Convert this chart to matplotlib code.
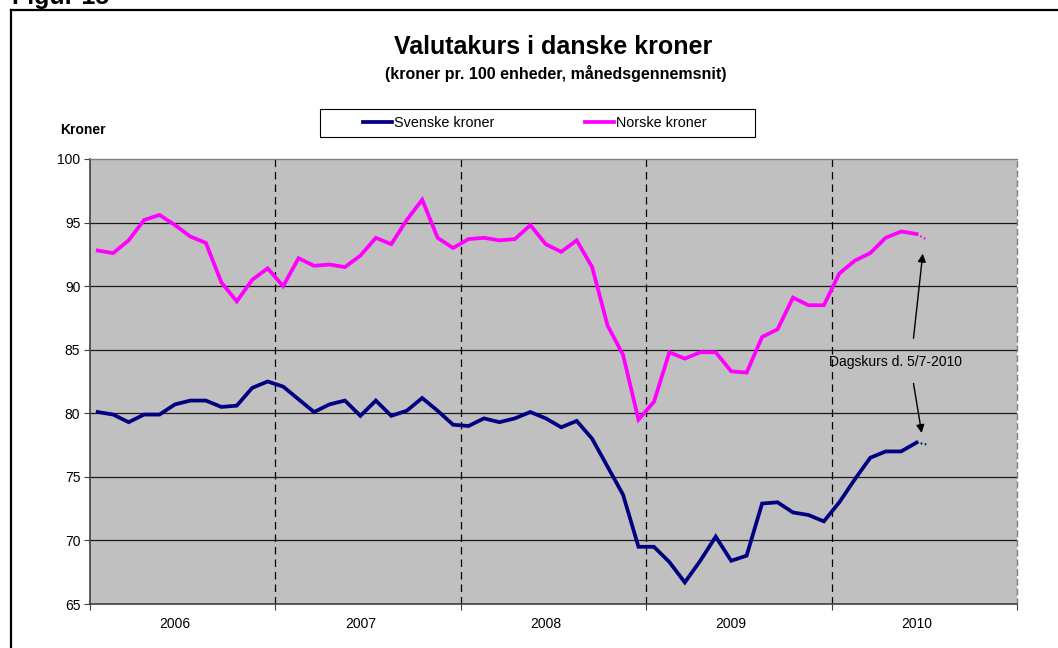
import matplotlib
matplotlib.use("Agg")
import matplotlib.pyplot as plt
from matplotlib.lines import Line2D
from matplotlib.patches import Rectangle
import numpy as np
import pandas as pd

plt.rcParams['font.family'] = ['Liberation Sans', 'DejaVu Sans']

# ---------------- data ----------------
years = ["2006", "2007", "2008", "2009", "2010"]
start_month = "2006-01"
svenske = [80.1, 79.9, 79.3, 79.9, 79.9, 80.7, 81.0, 81.0, 80.5, 80.6, 82.0, 82.5,
           82.1, 81.1, 80.1, 80.7, 81.0, 79.8, 81.0, 79.8, 80.2, 81.2, 80.2, 79.1,
           79.0, 79.6, 79.3, 79.6, 80.1, 79.6, 78.9, 79.4, 78.0, 75.8, 73.6, 69.5,
           69.5, 68.3, 66.7, 68.4, 70.3, 68.4, 68.8, 72.9, 73.0, 72.2, 72.0, 71.5,
           73.0, 74.8, 76.5, 77.0, 77.0, 77.7]
norske = [92.8, 92.6, 93.6, 95.2, 95.6, 94.8, 93.9, 93.4, 90.3, 88.8, 90.5, 91.4,
          90.0, 92.2, 91.6, 91.7, 91.5, 92.4, 93.8, 93.3, 95.2, 96.8, 93.8, 93.0,
          93.7, 93.8, 93.6, 93.7, 94.8, 93.3, 92.7, 93.6, 91.5, 86.9, 84.6, 79.5,
          80.9, 84.8, 84.3, 84.8, 84.8, 83.3, 83.2, 86.0, 86.6, 89.1, 88.5, 88.5,
          91.0, 92.0, 92.6, 93.8, 94.3, 94.1]
dagskurs_dato = "2010-07-05"
dagskurs_sek = 77.55
dagskurs_nok = 93.68
annotation_text = "Dagskurs d. 5/7-2010"

# --------------- positions ---------------
months = pd.period_range(start_month, periods=len(svenske), freq="M")
x = np.arange(len(months))
d = pd.Timestamp(dagskurs_dato)
base = pd.Period(start_month, freq="M")
x_dag = (d.to_period("M") - base).n + (d.day - 1) / d.days_in_month - 0.5
n_total = len(years) * 12

W, H = 1058, 648
fig = plt.figure(figsize=(W / 100, H / 100), dpi=100)
ax = fig.add_axes([90 / W, 1 - 604 / H, (1017 - 90) / W, (604 - 159) / H])
ax.set_facecolor("#C0C0C0")

# grid lines
yt = np.arange(65, 101, 5)
for v in yt[1:-1]:
    ax.axhline(v, color="#1a1a1a", lw=0.9, zorder=1)
# year separators
for i in range(1, len(years)):
    ax.axvline(i * 12 - 0.5, color="black", lw=0.9, ls=(0, (6, 4)), zorder=1)

navy = "#000080"
mag = "#FF00FF"
ax.plot(x, svenske, color=navy, lw=2.7, zorder=3, solid_joinstyle="miter", label="Svenske kroner")
ax.plot(x, norske, color=mag, lw=2.7, zorder=3, solid_joinstyle="miter", label="Norske kroner")
ax.plot([x[-1], x_dag], [svenske[-1], dagskurs_sek], color=navy, lw=1.5, ls=(0, (0.8, 1.2)), zorder=2.5)
ax.plot([x[-1], x_dag], [norske[-1], dagskurs_nok], color=mag, lw=1.5, ls=(0, (0.8, 1.2)), zorder=2.5)

ax.set_xlim(-0.5, n_total - 0.5)
ax.set_ylim(65, 100)
ax.set_yticks(yt)
ax.set_yticklabels([str(v) for v in yt], fontsize=10)
ax.set_xticks(np.arange(0, n_total + 1, 12) - 0.5)
ax.set_xticklabels([])
ax.set_xticks(np.arange(len(years)) * 12 + 5, minor=True)
ax.set_xticklabels(years, minor=True, fontsize=10)
ax.tick_params(axis="x", which="minor", length=0, pad=9)
ax.tick_params(axis="x", which="major", length=4, direction="out", color="#404040")
ax.tick_params(axis="y", length=4, direction="out", color="#404040", pad=3)

for s in ["left", "bottom"]:
    ax.spines[s].set_color("#404040")
    ax.spines[s].set_linewidth(1.2)
ax.spines["top"].set_color("#808080")
ax.spines["top"].set_linewidth(1.0)
ax.spines["right"].set_color("#808080")
ax.spines["right"].set_linewidth(1.0)
ax.spines["right"].set_linestyle((0, (4, 3)))

# annotation
ax.text(47.3, 84.05, annotation_text, fontsize=10, va="center", ha="left", zorder=4)
ax.annotate("", xy=(53.4, 92.55), xytext=(52.8, 85.9),
            arrowprops=dict(arrowstyle="-|>", color="black", lw=1.0, mutation_scale=12, shrinkA=0, shrinkB=0), zorder=4)
ax.annotate("", xy=(53.33, 78.45), xytext=(52.8, 82.35),
            arrowprops=dict(arrowstyle="-|>", color="black", lw=1.0, mutation_scale=12, shrinkA=0, shrinkB=0), zorder=4)

# titles
fig.text(553 / W, 1 - 47 / H, "Valutakurs i danske kroner", fontsize=18, fontweight="bold", ha="center", va="center")
fig.text(556 / W, 1 - 73 / H, "(kroner pr. 100 enheder, månedsgennemsnit)", fontsize=11.5, fontweight="bold", ha="center", va="center")
fig.text(60 / W, 1 - 130 / H, "Kroner", fontsize=10, fontweight="bold", ha="left", va="center")
fig.text(12 / W, 1 - 4 / H, "Figur 15", fontsize=18, fontweight="bold", ha="left", va="baseline")

# outer frame
fig.add_artist(Line2D([11 / W, 11 / W], [0, 1 - 10 / H], color="black", lw=1.6, transform=fig.transFigure))
fig.add_artist(Line2D([11 / W, 1], [1 - 10 / H, 1 - 10 / H], color="black", lw=1.6, transform=fig.transFigure))

# legend
fig.add_artist(Rectangle((320 / W, 1 - 137 / H), 435 / W, 28 / H, transform=fig.transFigure,
                         facecolor="white", edgecolor="black", lw=0.8))
leg = fig.legend(loc="center", bbox_to_anchor=(535 / W, 1 - 123 / H), ncol=2, frameon=False,
                 fontsize=10.4, handlelength=2.0, handletextpad=0.15, columnspacing=6.3,
                 borderpad=0, borderaxespad=0)

fig.savefig("out.png", dpi=100)
